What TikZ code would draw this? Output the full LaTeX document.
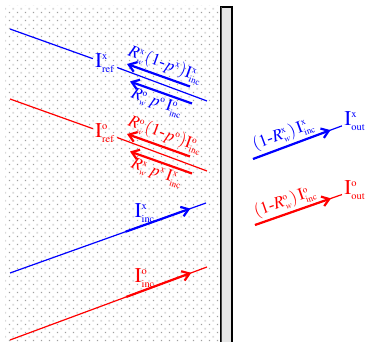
\documentclass[tikz,border=0pt]{standalone}
\usepackage{mathptmx}
\usepackage{fontspec}
\setmainfont{Liberation Serif}
\usetikzlibrary{arrows.meta,patterns,calc}
\DeclareMathSizes{10.5}{10.5}{5.2}{4}
\DeclareMathSizes{8.5}{8.5}{4.6}{3.6}
\pgfdeclarepatternformonly{sparsedots}{\pgfpointorigin}{\pgfpoint{4pt}{4pt}}{\pgfpoint{4pt}{4pt}}{%
  \pgfpathrectangle{\pgfpoint{0.5pt}{0.5pt}}{\pgfpoint{0.75pt}{0.75pt}}\pgfusepath{fill}}
\pgfdeclarepatternformonly{sparsesquares}{\pgfpointorigin}{\pgfpoint{4pt}{4pt}}{\pgfpoint{4pt}{4pt}}{%
  \pgfpathrectangle{\pgfpoint{2.4pt}{2.4pt}}{\pgfpoint{1.1pt}{1.1pt}}\pgfusepath{fill}}
\newcommand{\Iv}[2]{\mathrm{I}^{\mathrm{#1}}_{\mathrm{#2}}}
\newcommand{\Rw}[1]{R^{\mathrm{#1}}_{w}}
\newcommand{\hy}{\mbox{-}}
\begin{document}
\begin{tikzpicture}[x=0.5pt,y=-0.5pt,every node/.style={font=\fontsize{10.5}{12}\selectfont,inner sep=1pt},
  ray/.style={line width=0.6pt},
  comp/.style={line width=1.1pt,-{Straight Barb[length=3.5pt,width=5pt]}},
  back/.style={line width=1.1pt,{Straight Barb[length=3.5pt,width=5pt]}-},
  rlabel/.style={font=\fontsize{8.5}{10}\selectfont,sloped,inner sep=1.2pt}]
\useasboundingbox (0,0) rectangle (365,342);
% dotted medium and wall
\fill[pattern=sparsesquares,pattern color=gray!30] (5,6) rectangle (221,342);
\fill[pattern=sparsedots,pattern color=gray!75] (5,6) rectangle (221,342);
\draw[fill=gray!20,draw=black,line width=0.8pt] (221,7) rectangle (232,343);
\draw[gray!55!black,line width=0.8pt] (221.4,7) -- (221.4,342);
% reflected x
\coordinate (xr0) at (10,29);
\coordinate (xr1) at (207,101);
\node[blue] (xref) at (105,63) {$\Iv{x}{ref}$};
\draw[ray,blue] (xr0) -- (xref) -- (xr1);
\coordinate (xa0) at (127,64);
\coordinate (xa1) at (190,86.5);
\coordinate (xb0) at (130,81.5);
\coordinate (xb1) at (192,103.5);
\draw[back,blue] (xa0) -- (xa1) node[pos=0.55,above,rlabel] (xla) {$\Rw{x}(1\hy p^{\mathrm{x}})\Iv{x}{inc}$};
\draw[back,blue] (xb0) -- (xb1) node[pos=0.5,below,rlabel] (xlb) {$\Rw{o}\,p^{\mathrm{o}}\,\Iv{o}{inc}$};
% reflected o
\coordinate (or0) at (10,99);
\coordinate (or1) at (207,171);
\node[red] (oref) at (105,133) {$\Iv{o}{ref}$};
\draw[ray,red] (or0) -- (oref) -- (or1);
\coordinate (oa0) at (127,134);
\coordinate (oa1) at (190,156.5);
\coordinate (ob0) at (130,151.5);
\coordinate (ob1) at (192,173.5);
\draw[back,red] (oa0) -- (oa1) node[pos=0.55,above,rlabel] (ola) {$\Rw{o}(1\hy p^{\mathrm{o}})\Iv{o}{inc}$};
\draw[back,red] (ob0) -- (ob1) node[pos=0.5,below,rlabel] (olb) {$\Rw{x}\,p^{\mathrm{x}}\,\Iv{x}{inc}$};
% incident
\coordinate (xi0) at (10,273);
\coordinate (xi1) at (206,203);
\draw[ray,blue] (xi0) -- (xi1);
\draw[comp,blue] ($(xi0)!0.59!(xi1)$) -- ($(xi0)!0.92!(xi1)$);
\node[blue] (xinc) at (145,213) {$\Iv{x}{inc}$};
\coordinate (oi0) at (10,340);
\coordinate (oi1) at (207,267);
\draw[ray,red] (oi0) -- (oi1);
\draw[comp,red] ($(oi0)!0.59!(oi1)$) -- ($(oi0)!0.92!(oi1)$);
\node[red] (oinc) at (145,278) {$\Iv{o}{inc}$};
% transmitted
\coordinate (xo0) at (253,159);
\node[blue] (xout) at (355,121) {$\Iv{x}{out}$};
\draw[ray,blue] (xo0) -- (xout);
\draw[comp,blue] (xo0) -- ($(xo0)!0.76!(xout)$) node[pos=0.45,above,rlabel] (xlo) {$(1\hy\Rw{x})\,\Iv{x}{inc}$};
\coordinate (oo0) at (255,225);
\node[red] (oout) at (355,190) {$\Iv{o}{out}$};
\draw[ray,red] (oo0) -- (oout);
\draw[comp,red] (oo0) -- ($(oo0)!0.76!(oout)$) node[pos=0.45,above,rlabel] (olo) {$(1\hy\Rw{o})\,\Iv{o}{inc}$};
\end{tikzpicture}
\end{document}
